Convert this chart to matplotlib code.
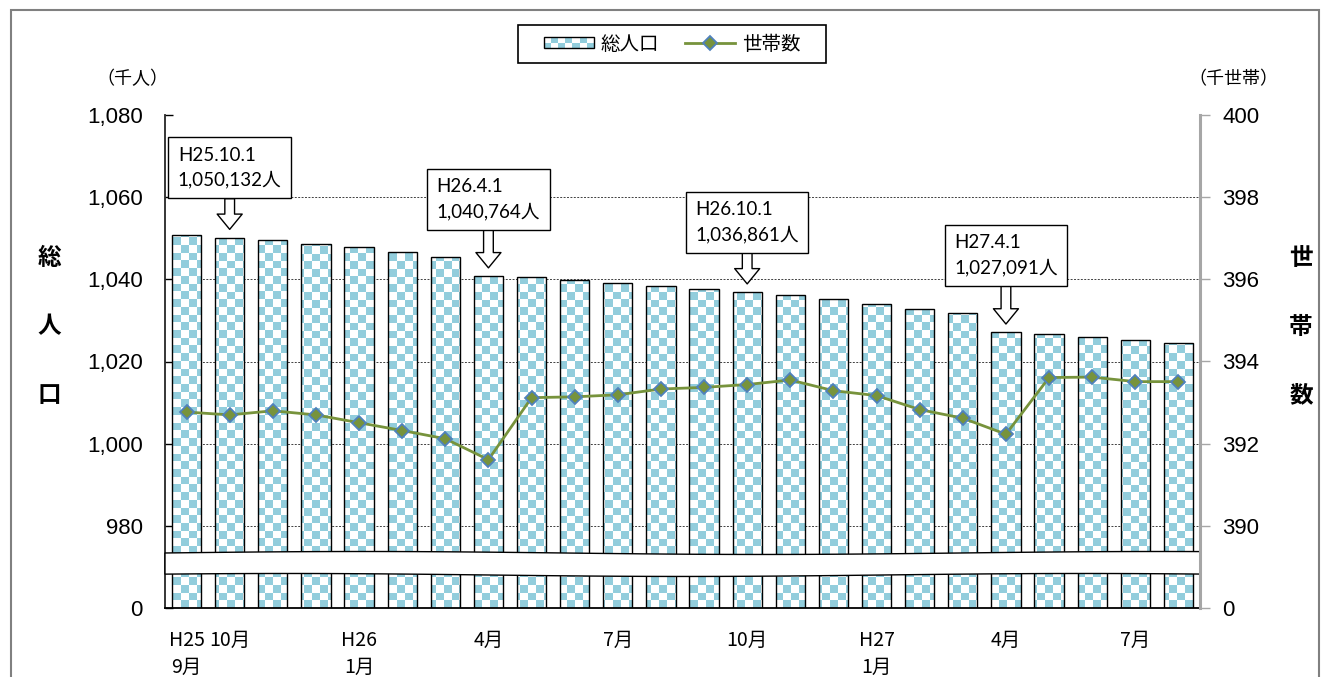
import numpy as np
import matplotlib.pyplot as plt
from matplotlib.patches import Rectangle, Polygon
from matplotlib.lines import Line2D
from matplotlib.legend_handler import HandlerBase

plt.rcParams['font.family'] = ['Noto Sans CJK JP', 'DejaVu Sans']

# data: H25.9 - H27.8 (monthly)
pop = [1050.8, 1050.132, 1049.6, 1048.6, 1047.8, 1046.6, 1045.4, 1040.764,
       1040.66, 1039.8, 1039.0, 1038.3, 1037.6, 1036.861, 1036.1, 1035.1,
       1034.1, 1032.9, 1031.8, 1027.091, 1026.8, 1026.0, 1025.2, 1024.6]
households = [392.77, 392.70, 392.80, 392.70, 392.51, 392.32, 392.12, 391.61,
              393.12, 393.14, 393.19, 393.33, 393.37, 393.44, 393.55, 393.29,
              393.17, 392.83, 392.62, 392.23, 393.61, 393.62, 393.51, 393.51]

xtick_idx = [0, 1, 4, 7, 10, 13, 16, 19, 22]
xtick_labels = ['H25\n9月', '10月', 'H26\n1月', '4月', '7月', '10月', 'H27\n1月', '4月', '7月']

left_ticks = [960, 980, 1000, 1020, 1040, 1060, 1080]
left_labels = ['0', '980', '1,000', '1,020', '1,040', '1,060', '1,080']
right_ticks = [388, 390, 392, 394, 396, 398, 400]
right_labels = ['0', '390', '392', '394', '396', '398', '400']

callout_idx = [1, 7, 13, 19]
callout_text = ['H25.10.1\n1,050,132人', 'H26.4.1\n1,040,764人',
                'H26.10.1\n1,036,861人', 'H27.4.1\n1,027,091人']
callout_dy = [70, 77, 70, 77]   # box centre above bar top, pixels

blue = '#92CDDC'
green = '#77933C'

W, H = 1322, 677
fig = plt.figure(figsize=(W / 100, H / 100), dpi=100)
ax = fig.add_axes([165 / W, 69 / H, 1035 / W, 493 / H])

x = np.arange(len(pop))
bars = ax.bar(x, pop, width=0.68, facecolor='none', edgecolor='black',
              linewidth=1.0, zorder=3)

# checker fill, clipped to each bar
rows, cols = 64, 134
chk = np.add.outer(np.arange(rows), np.arange(cols)) % 2
rgb = np.ones((rows, cols, 3))
rgb[chk == 1] = [146 / 255, 205 / 255, 220 / 255]
for b in bars:
    im = ax.imshow(rgb, extent=(-0.5, 23.5, 960, 1080), aspect='auto',
                   interpolation='nearest', zorder=2)
    im.set_clip_path(b)

for v in left_ticks[1:-1]:
    ax.axhline(v, color='#404040', lw=0.7, ls=(0, (2, 1.5)), zorder=1)

ax.set_xlim(-0.5, 23.5)
ax.set_ylim(960, 1080)
ax.set_yticks(left_ticks, left_labels, fontfamily='Liberation Sans', fontsize=16)
ax.set_xticks(xtick_idx, xtick_labels, fontsize=14, linespacing=1.35)
ax.tick_params(axis='y', direction='in', length=6, width=1, pad=16)
ax.tick_params(axis='x', length=0, pad=16)
ax.spines['top'].set_visible(False)
ax.spines['right'].set_visible(False)
ax.spines['left'].set_color('#262626')
ax.spines['left'].set_linewidth(1.3)
ax.spines['bottom'].set_linewidth(1.3)

# broken-axis band
xs = np.linspace(0, 1, 300)
top = 0.1116 + 0.003 * np.sin(xs * 2 * np.pi * 1.3)
bot = 0.067 + 0.003 * np.sin(xs * 2 * np.pi * 1.3 + 0.6)
band = Polygon(np.column_stack([np.r_[xs, xs[::-1]], np.r_[top, bot[::-1]]]),
               closed=True, transform=ax.transAxes, facecolor='white',
               edgecolor='black', lw=1, zorder=6, clip_on=False)
ax.add_patch(band)

# callouts
for i, txt, dy in zip(callout_idx, callout_text, callout_dy):
    ax.annotate(txt, xy=(i, pop[i]), xytext=(0, dy), textcoords='offset pixels',
                ha='center', va='center', multialignment='left', fontsize=13.5,
                family=['Lato', 'Noto Sans CJK JP'], linespacing=1.5, zorder=7,
                bbox=dict(boxstyle='square,pad=0.5', fc='white', ec='black', lw=1),
                arrowprops=dict(arrowstyle='simple,head_length=0.55,head_width=0.9,tail_width=0.35',
                                fc='white', ec='black', lw=1, shrinkA=0, shrinkB=6,
                                mutation_scale=20))

ax2 = ax.twinx()
ax2.plot(x, households, color=green, lw=2, marker='D', ms=7, mfc=green,
         mec='#4F81BD', mew=1.3, zorder=4)
ax2.set_ylim(388, 400)
ax2.set_yticks(right_ticks, right_labels, fontfamily='Liberation Sans', fontsize=16)
ax2.tick_params(axis='y', direction='out', length=7, width=1, color='#a6a6a6', pad=9)
for s in ['top', 'left', 'bottom']:
    ax2.spines[s].set_visible(False)
ax2.spines['right'].set_color('#a6a6a6')
ax2.spines['right'].set_linewidth(2.2)

# axis titles
for k, ch in enumerate('総人口'):
    fig.text(49 / W, 1 - (258 + 68.5 * k) / H, ch, ha='center', va='center',
             fontsize=17, fontweight='bold')
for k, ch in enumerate('世帯数'):
    fig.text(1301 / W, 1 - (258 + 68.5 * k) / H, ch, ha='center', va='center',
             fontsize=17, fontweight='bold')
fig.text(132 / W, 1 - 79 / H, '（千人）', ha='center', va='center', fontsize=13)
fig.text(1233 / W, 1 - 79 / H, '（千世帯）', ha='center', va='center', fontsize=13)


# legend
class CheckerHandler(HandlerBase):
    def create_artists(self, legend, orig_handle, xdescent, ydescent,
                       width, height, fontsize, trans):
        arts = []
        n, m = 7, 2
        cw, chh = width / n, height / m
        for i in range(n):
            for j in range(m):
                if (i + j) % 2 == 0:
                    arts.append(Rectangle((-xdescent + i * cw, -ydescent + j * chh), cw, chh,
                                          facecolor=blue, edgecolor='none', transform=trans))
        arts.append(Rectangle((-xdescent, -ydescent), width, height, facecolor='none',
                              edgecolor='black', lw=1, transform=trans))
        return arts


proxy = Rectangle((0, 0), 1, 1)
line_h = Line2D([], [], color=green, lw=2, marker='D', ms=7, mfc=green,
                mec='#4F81BD', mew=1.3)
fig.legend([proxy, line_h], ['総人口', '世帯数'], handler_map={proxy: CheckerHandler()},
           loc='center', bbox_to_anchor=(672 / W, 1 - 44 / H), ncol=2, fontsize=14,
           frameon=False, handlelength=2.6, handleheight=0.45, handletextpad=0.35,
           columnspacing=1.3)
fig.patches.append(Rectangle((518 / W, 1 - 63 / H), 308 / W, 38 / H,
                             transform=fig.transFigure, fill=False, ec='black', lw=1.2))

# outer frame
fig.patches.append(Rectangle((11 / W, -0.1), 1308 / W, 1 - 10 / H + 0.1,
                             transform=fig.transFigure, fill=False, ec='#808080', lw=1.5))

fig.savefig('out.png', dpi=100)
